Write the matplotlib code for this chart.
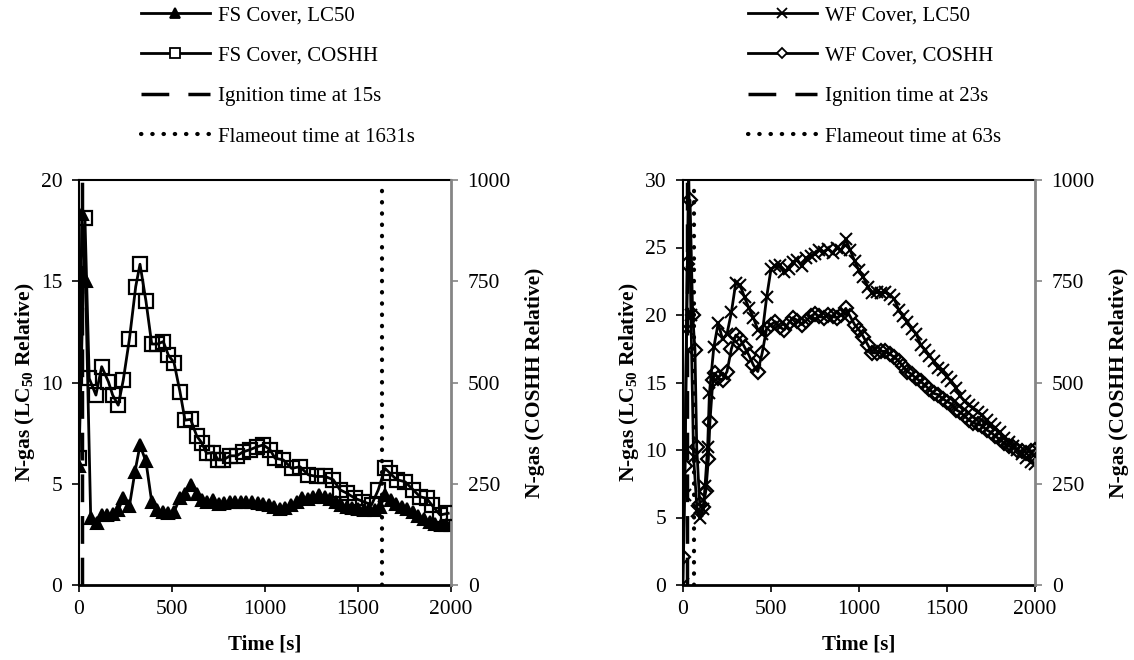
import matplotlib
matplotlib.use("Agg")
import matplotlib.pyplot as plt
from matplotlib.lines import Line2D

plt.rcParams['font.family'] = ['Liberation Serif', 'DejaVu Serif']
plt.rcParams['mathtext.default'] = 'regular'

# ---------------- Left panel (FS Cover) ----------------
fs_lc50_t = [0, 15, 35, 63, 95, 122, 152, 181, 211, 238, 271, 301, 328, 360, 391, 421, 453,
             480, 511, 543, 570, 600, 633, 660, 690, 720, 750, 780, 810, 840, 870, 900, 930,
             960, 990, 1020, 1050, 1080, 1110, 1140, 1170, 1200, 1230, 1260, 1290, 1320, 1350,
             1380, 1410, 1440, 1470, 1500, 1530, 1560, 1590, 1620, 1645, 1675, 1705, 1735,
             1765, 1795, 1825, 1855, 1885, 1915, 1945, 1975, 2000]
fs_lc50 = [5.9, 18.3, 15.0, 3.3, 3.05, 3.45, 3.45, 3.5, 3.7, 4.3, 3.9, 5.6, 6.9, 6.1, 4.1, 3.7,
           3.62, 3.57, 3.62, 4.3, 4.5, 4.95, 4.5, 4.2, 4.1, 4.2, 4.0, 4.05, 4.1, 4.1, 4.1, 4.1,
           4.1, 4.05, 4.0, 3.95, 3.85, 3.75, 3.8, 3.95, 4.1, 4.3, 4.25, 4.35, 4.45, 4.35, 4.25,
           4.1, 3.95, 3.85, 3.8, 3.75, 3.7, 3.75, 3.7, 3.85, 4.45, 4.2, 4.0, 3.85, 3.75, 3.6,
           3.4, 3.25, 3.1, 3.0, 2.95, 2.95, 2.95]

fs_coshh_t = [0, 32, 55, 91, 122, 158, 181, 211, 238, 271, 305, 328, 360, 391, 421, 453, 480,
              511, 543, 570, 600, 633, 660, 686, 722, 749, 776, 812, 848, 883, 919, 955, 991,
              1027, 1054, 1098, 1143, 1188, 1233, 1278, 1323, 1367, 1403, 1439, 1484, 1528,
              1573, 1609, 1645, 1672, 1708, 1753, 1797, 1833, 1869, 1896, 1941, 1985]
fs_coshh = [313, 905, 510, 469, 539, 502, 469, 444, 506, 607, 737, 792, 701, 595, 595, 601,
            568, 549, 477, 407, 409, 368, 351, 325, 327, 309, 309, 319, 319, 329, 334, 341,
            346, 334, 313, 309, 288, 292, 272, 268, 268, 260, 235, 227, 214, 206, 198, 235,
            288, 276, 260, 255, 235, 218, 214, 198, 173, 177]

fs_ignition = 15
fs_flameout = 1631

# ---------------- Right panel (WF Cover) ----------------
wf_lc50_t = [0, 9, 20, 32, 45, 60, 80, 97, 115, 125, 140, 150, 175, 200, 225, 250, 275, 300,
             325, 350, 375, 400, 425, 450, 475, 500, 525, 550, 575, 600, 625, 650, 675, 700,
             725, 750, 775, 800, 825, 850, 875, 900, 925, 950, 975, 1000, 1025, 1050, 1075,
             1100, 1125, 1150, 1175, 1200, 1225, 1250, 1275, 1300, 1325, 1350, 1375, 1400,
             1425, 1450, 1475, 1500, 1525, 1550, 1575, 1600, 1625, 1650, 1675, 1700, 1725,
             1750, 1775, 1800, 1825, 1850, 1875, 1900, 1925, 1950, 1975, 2000]
wf_lc50 = [0.1, 6.7, 19.0, 31.0, 20.0, 9.5, 5.5, 5.0, 5.6, 7.3, 10.2, 14.2, 17.6, 19.4, 18.2,
           18.6, 20.2, 22.4, 22.2, 21.3, 20.5, 19.8, 18.9, 18.6, 21.3, 23.4, 23.6, 23.7, 23.2,
           23.4, 23.9, 24.1, 23.6, 24.2, 24.4, 24.5, 24.8, 24.7, 24.9, 24.6, 25.0, 24.8, 25.6,
           24.8, 24.0, 23.3, 22.8, 22.1, 21.6, 21.7, 21.6, 21.7, 21.5, 21.2, 20.4, 19.9, 19.5,
           19.0, 18.6, 17.8, 17.4, 17.0, 16.6, 16.1, 15.9, 15.4, 15.1, 14.6, 14.0, 13.6, 13.3,
           13.1, 12.8, 12.6, 12.2, 11.9, 11.6, 11.3, 10.9, 10.6, 10.3, 10.0, 9.7, 9.4, 9.1, 9.0]

wf_coshh_t = [0, 11, 25, 40, 55, 68, 78, 95, 115, 130, 144, 153, 170, 182, 200, 225, 250, 275,
              300, 325, 350, 375, 400, 425, 450, 475, 500, 525, 550, 575, 600, 625, 650, 675,
              700, 725, 750, 775, 800, 825, 850, 875, 900, 925, 950, 975, 1000, 1025, 1050,
              1075, 1100, 1125, 1150, 1175, 1200, 1225, 1250, 1275, 1300, 1325, 1350, 1375,
              1400, 1425, 1450, 1475, 1500, 1525, 1550, 1575, 1600, 1625, 1650, 1675, 1700,
              1725, 1750, 1775, 1800, 1825, 1850, 1875, 1900, 1925, 1950, 1975, 2000]
wf_coshh = [70, 293, 793, 950, 667, 580, 340, 200, 193, 233, 310, 403, 507, 523, 510, 507,
            527, 583, 617, 607, 587, 567, 543, 527, 573, 633, 643, 650, 637, 630, 647, 660,
            653, 643, 653, 663, 670, 663, 660, 667, 663, 660, 667, 683, 663, 643, 630, 613,
            593, 573, 573, 577, 577, 570, 563, 553, 540, 527, 520, 510, 503, 493, 483, 473,
            470, 460, 453, 447, 433, 427, 417, 407, 400, 397, 393, 383, 377, 367, 360, 350,
            343, 340, 333, 330, 327, 330, 333]

wf_ignition = 23
wf_flameout = 63

x_ticks = [0, 500, 1000, 1500, 2000]
coshh_ticks = [0, 250, 500, 750, 1000]

W, H = 1134, 660
fig = plt.figure(figsize=(W / 100, H / 100), dpi=100)

GRAY = '#858585'
TICK_FS = 15.5
XLAB_FS = 15
YLAB_FS = 15.5
LEG_FS = 15
DASH = (0, (8, 4))
DOT = (0, (0.1, 2.6))


def make_panel(left_px, right_px, ymax, yticks, lc_t, lc_v, co_t, co_v,
               ign, flo, lc_marker, co_marker, lc_ms, co_ms, lc_fill, labels, leg_x):
    ax = fig.add_axes([left_px / W, (H - 585) / H, (right_px - left_px) / W, 405 / H])
    ax2 = ax.twinx()
    ax.set_xlim(0, 2000)
    ax.set_ylim(0, ymax)
    ax2.set_ylim(0, 1000)
    ax.set_xticks(x_ticks)
    ax.set_yticks(yticks)
    ax2.set_yticks(coshh_ticks)
    for a in (ax, ax2):
        a.tick_params(axis='y', direction='out', length=5, width=1.2, labelsize=TICK_FS, pad=7)
    ax.tick_params(axis='x', direction='out', length=5, width=1.2, labelsize=TICK_FS, pad=6)
    ax2.tick_params(axis='y', color=GRAY)
    ax.spines['left'].set_linewidth(1.5)
    ax.spines['bottom'].set_linewidth(2)
    ax.spines['top'].set_linewidth(1.5)
    ax2.spines['right'].set_color(GRAY)
    ax2.spines['right'].set_linewidth(2)
    ax.spines['right'].set_visible(False)
    for s in ('left', 'top', 'bottom'):
        ax2.spines[s].set_visible(False)

    ax.plot(lc_t, lc_v, color='black', lw=2, marker=lc_marker, ms=lc_ms,
            mfc=lc_fill, mec='black', mew=1.5, zorder=3)
    ax2.plot(co_t, co_v, color='black', lw=2, marker=co_marker, ms=co_ms,
             mfc='none', mec='black', mew=1.6, zorder=3)
    ax.axvline(ign, color='black', lw=2.5, ls=DASH)
    ax.axvline(flo, color='black', lw=3, ls=DOT, dash_capstyle='round')

    ax.set_xlabel('Time [s]', fontsize=XLAB_FS, fontweight='bold', labelpad=11)
    ax.set_ylabel('N-gas (LC$_{50}$ Relative)', fontsize=YLAB_FS, fontweight='bold', labelpad=3)
    ax2.set_ylabel('N-gas (COSHH Relative)', fontsize=YLAB_FS, fontweight='bold',
                   rotation=90, labelpad=10)

    h1 = Line2D([], [], color='black', lw=2, marker=lc_marker, ms=lc_ms * 0.8,
                mfc=lc_fill, mec='black', mew=1.3)
    h2 = Line2D([], [], color='black', lw=2, marker=co_marker, ms=co_ms * 0.7,
                mfc='white', mec='black', mew=1.3)
    h3 = Line2D([], [], color='black', lw=2.5, ls=(0, (8, 5.5)))
    h4 = Line2D([], [], color='black', lw=3, ls=DOT, dash_capstyle='round')
    fig.legend([h1, h2, h3, h4], labels, loc='upper left',
               bbox_to_anchor=(leg_x / W, 1 + 13 / H), frameon=False,
               fontsize=LEG_FS, handlelength=3.3, handletextpad=0.4, labelspacing=1.0)


make_panel(79, 451, 20, [0, 5, 10, 15, 20], fs_lc50_t, fs_lc50, fs_coshh_t, fs_coshh,
           fs_ignition, fs_flameout, '^', 's', 8.5, 9.5, 'black',
           ['FS Cover, LC50', 'FS Cover, COSHH', 'Ignition time at 15s',
            'Flameout time at 1631s'], 122)

make_panel(683, 1035, 30, [0, 5, 10, 15, 20, 25, 30], wf_lc50_t, wf_lc50, wf_coshh_t, wf_coshh,
           wf_ignition, wf_flameout, 'x', 'D', 8.5, 7, 'black',
           ['WF Cover, LC50', 'WF Cover, COSHH', 'Ignition time at 23s',
            'Flameout time at 63s'], 729)

fig.savefig('out.png', dpi=100)
